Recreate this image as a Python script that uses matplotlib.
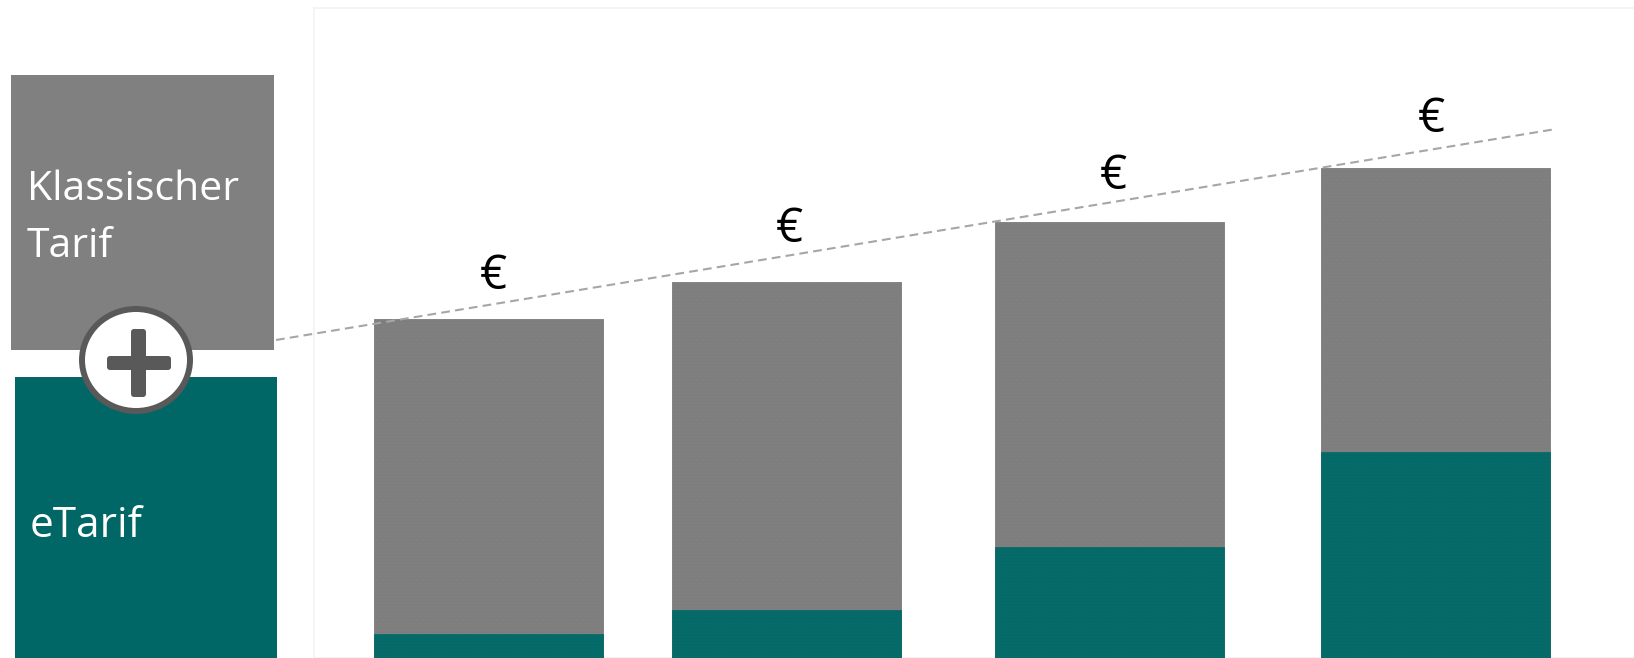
import matplotlib
matplotlib.use("Agg")
import matplotlib.pyplot as plt
from matplotlib.patches import Rectangle, Ellipse, FancyBboxPatch

# Stacked values per period
classic_total = [339, 376, 436, 490]
etarif_share = [24, 48, 111, 206]
value_labels = ["€", "€", "€", "€"]
legend_classic = ["Klassischer", "Tarif"]
legend_etarif = "eTarif"

# Layout, in pixels of the 1634x658 canvas
W, H = 1634, 658
bar_left = [374, 672, 995, 1321]
bar_width = 229
label_x = [493, 789, 1113, 1431]
label_y = [276, 229, 176, 119]
trend_px = ([276, 1556], [340, 129])

GREY = "#808080"
TEAL = "#006666"
BAR_TEAL = "#056967"
DARK = "#595959"
FONT = "Open Sans"

fig = plt.figure(figsize=(W / 100, H / 100), dpi=100, facecolor="white")

# Chart area with a faint frame on the top and left
ax = fig.add_axes([314 / W, 0, (W - 314) / W, 650 / H])
ax.set_xlim(314, W)
ax.set_ylim(0, 650)
for side in ("right", "bottom"):
    ax.spines[side].set_visible(False)
for side in ("top", "left"):
    ax.spines[side].set_color("#f2f2f2")
    ax.spines[side].set_linewidth(1.2)
ax.axhline(0.5, color="#f2f2f2", lw=1.2, zorder=0)
ax.set_xticks([])
ax.set_yticks([])

plt.rcParams["hatch.linewidth"] = 0.3
ax.bar(bar_left, classic_total, width=bar_width, align="edge", color="#7e7e7e",
       edgecolor="#7a7a7a", linewidth=0.6, zorder=2)
ax.bar(bar_left, classic_total, width=bar_width, align="edge", facecolor="none",
       edgecolor="#868686", hatch=".....", linewidth=0, zorder=2.1)
ax.bar(bar_left, etarif_share, width=bar_width, align="edge", color=BAR_TEAL,
       edgecolor="#0b6b69", linewidth=0.6, zorder=3)
ax.bar(bar_left, etarif_share, width=bar_width, align="edge", facecolor="none",
       edgecolor="#0c716e", hatch=".....", linewidth=0, zorder=3.1)

# Overlay in canvas pixels for the key, trend line and currency signs
ov = fig.add_axes([0, 0, 1, 1], facecolor="none")
ov.set_xlim(0, W)
ov.set_ylim(H, 0)
ov.axis("off")

ov.plot(*trend_px, color="#a6a6a6", lw=1.5, dashes=(4.2, 2.5), zorder=5)

for text, x, y in zip(value_labels, label_x, label_y):
    ov.text(x, y, text, fontsize=34, family=FONT, color="black",
            ha="center", va="center", zorder=6)

ov.add_patch(Rectangle((11, 75), 263, 275, color=GREY, lw=0, zorder=2))
ov.add_patch(Rectangle((15, 377), 262, 281, color=TEAL, lw=0, zorder=2))

ov.text(27, 190, legend_classic[0], fontsize=29.5, family=FONT, color="white",
        ha="left", va="center", zorder=3)
ov.text(27, 247, legend_classic[1], fontsize=29.5, family=FONT, color="white",
        ha="left", va="center", zorder=3)
ov.text(30, 526, legend_etarif, fontsize=30.5, family=FONT, color="white",
        ha="left", va="center", zorder=3)

# Plus badge joining the two key blocks
ov.add_patch(Ellipse((136, 360), 108, 102, facecolor="white", edgecolor=DARK,
                     linewidth=4.3, zorder=4))
ov.add_patch(FancyBboxPatch((134, 332), 9, 62, boxstyle="round,pad=3,rounding_size=3",
                            color=DARK, lw=0, zorder=5))
ov.add_patch(FancyBboxPatch((110, 359), 58, 8, boxstyle="round,pad=3,rounding_size=3",
                            color=DARK, lw=0, zorder=5))

fig.savefig("out.png", dpi=100, facecolor="white")
